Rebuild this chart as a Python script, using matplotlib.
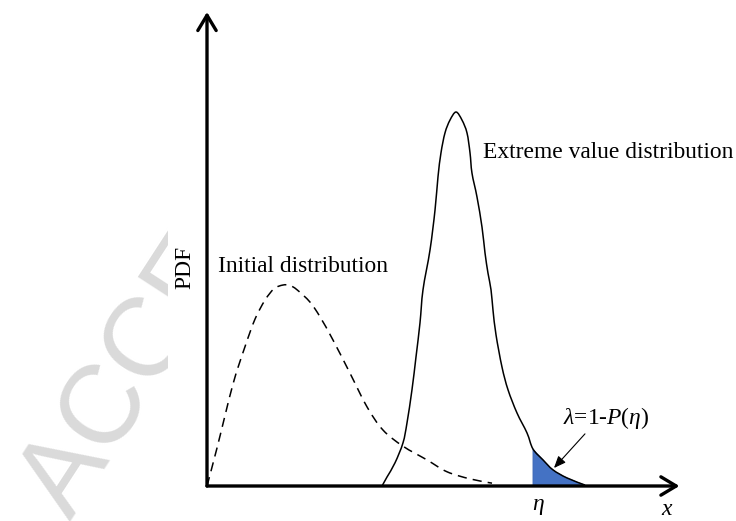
import matplotlib
matplotlib.use("Agg")
import matplotlib.pyplot as plt
import numpy as np
from matplotlib.path import Path
from matplotlib.patches import PathPatch
from matplotlib.transforms import Bbox, TransformedBbox

plt.rcParams["font.family"] = ["Liberation Serif", "DejaVu Serif"]
plt.rcParams["mathtext.fontset"] = "custom"
plt.rcParams["mathtext.rm"] = "Liberation Serif"
plt.rcParams["mathtext.it"] = "Liberation Serif:italic"

# Initial (parent) distribution, dashed
initial_x = [0.0, 0.212, 0.552, 0.807, 1.019, 1.231, 1.423, 1.614, 1.762, 1.911,
             2.187, 2.399, 2.675, 3.036, 3.397, 3.737, 4.161, 4.671, 5.096,
             5.584, 6.051]
initial_y = [0.0, 0.080, 0.215, 0.294, 0.352, 0.392, 0.416, 0.424, 0.423, 0.414,
             0.388, 0.357, 0.308, 0.238, 0.167, 0.118, 0.084, 0.055, 0.030,
             0.015, 0.006]

# Extreme value distribution, solid
extreme_x = [3.716, 3.822, 3.992, 4.161, 4.246, 4.352, 4.437, 4.522, 4.586, 4.735,
             4.841, 4.904, 4.968, 5.053, 5.159, 5.287, 5.414, 5.520, 5.584, 5.626,
             5.732, 5.839, 5.902, 5.966, 6.030, 6.072, 6.136, 6.263, 6.391, 6.582,
             6.794, 6.921, 7.134, 7.346, 7.643, 8.025]
extreme_y = [0.0, 0.019, 0.049, 0.091, 0.133, 0.203, 0.272, 0.344, 0.414, 0.498,
             0.582, 0.652, 0.703, 0.745, 0.772, 0.789, 0.772, 0.745, 0.703, 0.660,
             0.610, 0.546, 0.492, 0.449, 0.414, 0.371, 0.319, 0.251, 0.203, 0.154,
             0.112, 0.078, 0.055, 0.034, 0.017, 0.002]

eta = 6.921


def smooth_path(xs, ys, close_to_axis=False):
    """Catmull-Rom curve through the given points, as cubic Bezier segments."""
    p = np.column_stack([xs, ys]).astype(float)
    ext = np.vstack([p[0], p, p[-1]])
    verts = [p[0]]
    codes = [Path.MOVETO]
    for i in range(1, len(ext) - 2):
        c1 = ext[i] + (ext[i + 1] - ext[i - 1]) / 6.0
        c2 = ext[i + 1] - (ext[i + 2] - ext[i]) / 6.0
        verts += [c1, c2, ext[i + 1]]
        codes += [Path.CURVE4] * 3
    if close_to_axis:
        verts += [(p[-1, 0], 0.0), (p[0, 0], 0.0), p[0]]
        codes += [Path.LINETO, Path.LINETO, Path.CLOSEPOLY]
    return Path(verts, codes)


fig = plt.figure(figsize=(7.36, 5.21), dpi=100)
fig.patch.set_facecolor("white")

# faint diagonal watermark, only visible left of the plot area
wm = fig.text(70 / 736, 1 - 521 / 521, "ACCE",
              family="Liberation Sans", fontsize=80, color="#dadada",
              rotation=57, rotation_mode="anchor", ha="left", va="baseline",
              zorder=0)
wm.set_clip_box(TransformedBbox(Bbox([[0, 0], [168 / 736, 1]]), fig.transFigure))
wm.set_clip_on(True)

ax = fig.add_axes([207 / 736, 35 / 521, 471 / 736, 474 / 521])
ax.set_xlim(0, 10)
ax.set_ylim(0, 1)
ax.axis("off")

ax.add_patch(PathPatch(smooth_path(initial_x, initial_y), fill=False, edgecolor="black",
                       lw=1.1, ls=(0, (6, 4)), clip_on=False, zorder=2))
ax.add_patch(PathPatch(smooth_path(extreme_x, extreme_y), fill=False, edgecolor="black",
                       lw=1.1, clip_on=False, zorder=4))

# exceedance probability beyond the threshold eta
k = extreme_x.index(eta)
ax.add_patch(PathPatch(smooth_path(extreme_x[k:], extreme_y[k:], close_to_axis=True),
                       facecolor="#4472C4", edgecolor="#3f69b5", lw=0.6, zorder=3))

# axes with open arrowheads
arrow = dict(arrowstyle="->,head_length=0.5,head_width=0.3", lw=2.4, color="black",
             shrinkA=0, shrinkB=0, mutation_scale=22)
ax.annotate("", xy=(10.03, 0), xytext=(0, 0), arrowprops=arrow, annotation_clip=False)
ax.annotate("", xy=(0, 1.0), xytext=(0, 0), arrowprops=arrow, annotation_clip=False)

fs = 16.9
ax.text(0.234, 0.451, "Initial distribution", fontsize=fs, ha="left", va="baseline")
ax.text(5.86, 0.692, "Extreme value distribution", fontsize=fs, ha="left", va="baseline")
ax.text(-0.467, 0.462, "PDF", fontsize=fs, rotation=90, ha="center", va="center")
ax.text(7.558, 0.131, r"$\lambda$=1-$P$($\eta$)", fontsize=fs, ha="left", va="baseline")
ax.text(7.03, -0.022, r"$\eta$", fontsize=fs, ha="center", va="top")
ax.text(9.77, -0.028, r"$x$", fontsize=fs, ha="center", va="top")

ax.annotate("", xy=(7.367, 0.038), xytext=(8.025, 0.110),
            arrowprops=dict(arrowstyle="-|>,head_length=0.6,head_width=0.25", lw=0.8,
                            color="black", shrinkA=0, shrinkB=0, mutation_scale=12),
            annotation_clip=False)

fig.savefig("out.png", dpi=100, facecolor="white")
